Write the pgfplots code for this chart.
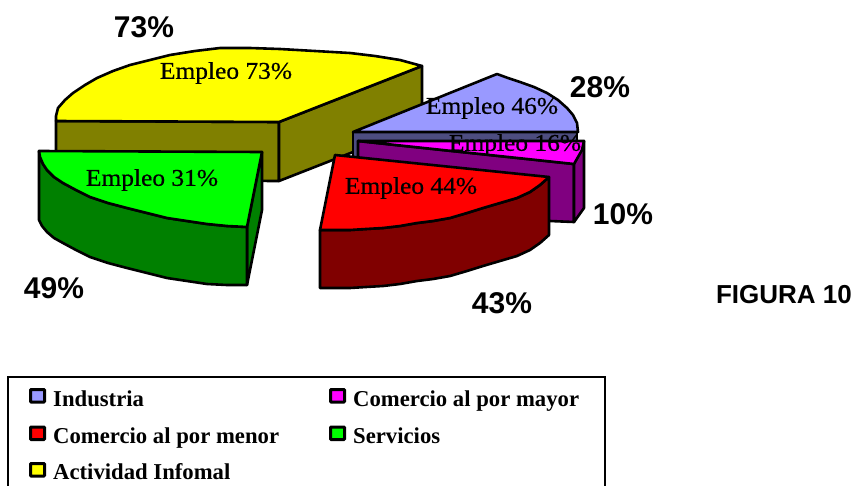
\documentclass[border=0pt]{standalone}
\usepackage{pgfplots}
\pgfplotsset{compat=1.18}
\usepackage{fontspec}
\setmainfont{Liberation Sans}
\newfontfamily\serif[FakeBold=0.5]{Liberation Serif}
\newfontfamily\serifb{Liberation Serif}
\definecolor{cblue}{HTML}{9999FF}
\definecolor{dblue}{HTML}{4D4D80}
\definecolor{cmag}{HTML}{FF00FF}
\definecolor{dmag}{HTML}{800080}
\definecolor{cred}{HTML}{FF0000}
\definecolor{dred}{HTML}{800000}
\definecolor{cgreen}{HTML}{00FF00}
\definecolor{dgreen}{HTML}{008000}
\definecolor{cyel}{HTML}{FFFF00}
\definecolor{dyel}{HTML}{808000}
\tikzset{
 pct/.style={font=\fontsize{30}{32}\selectfont\bfseries,text=black,inner sep=0pt},
 emp/.style={font=\fontsize{24}{26}\serif\selectfont,text=black,inner sep=0pt,xscale=1.06},
 leg/.style={font=\fontsize{22.7}{24}\serifb\bfseries\selectfont,text=black,inner sep=0pt,anchor=base west},
 wedge/.style={draw=black,line width=2.6pt,line join=round},
 swatch/.style={draw=black,line width=3pt,rounded corners=0.8pt}
}
\begin{document}
\begin{tikzpicture}
\useasboundingbox (0,0) rectangle (854pt,485pt);
\begin{axis}[at={(0,0)},anchor=south west,scale only axis,width=854pt,height=485pt,xmin=0,xmax=854,ymin=0,ymax=485,y dir=reverse,hide axis,clip=true]
% Actividad informal
\addplot[wedge,fill=dyel] coordinates {(56,121)(279,122)(279,181)(56,180)} -- cycle;
\addplot[wedge,fill=dyel] coordinates {(279,122)(422,66)(422,125)(279,181)} -- cycle;
\addplot[wedge,fill=cyel] coordinates {(279,122)(56,121)(56,116)(58,108)(65,100)(73,93)(85,85)(97,78)(113,71)(130,65)(150,60)(170,55)(195,51)(220,48)(250,48)(280,49)(315,51)(350,53)(375,56)(400,60)(422,66)} -- cycle;
% Industria
\addplot[wedge,fill=dblue] coordinates {(353,132)(577,132)(577,191)(353,191)} -- cycle;
\addplot[wedge,fill=cblue] coordinates {(353,132)(497,74)(508,78)(520,82)(534,87)(547,93)(558,100)(567,108)(573,115)(577,123)(578,132)} -- cycle;
% Comercio al por mayor
\addplot[wedge,fill=dmag] coordinates {(358,141)(574,164)(574,222)(550,221)(358,200)} -- cycle;
\addplot[wedge,fill=dmag] coordinates {(574,164)(584,141)(584,208)(574,222)} -- cycle;
\addplot[wedge,fill=cmag] coordinates {(358,141)(584,141)(582,150)(578,157)(574,164)} -- cycle;
% Servicios
\addplot[wedge,fill=dgreen] coordinates {(247,227)(262,152)(262,210)(247,285)} -- cycle;
\addplot[wedge,fill=dgreen] coordinates {(39,151)(40,157)(43,164)(47,170)(54,177)(63,183)(76,190)(90,197)(108,203)(127,208)(147,213)(167,218)(187,221)(207,224)(227,226)(247,227)(247,285)(227,285)(207,284)(187,281)(167,278)(147,273)(127,268)(108,263)(90,257)(76,250)(63,243)(54,238)(47,232)(42,226)(39,220)} -- cycle;
\addplot[wedge,fill=cgreen] coordinates {(39,151)(262,152)(247,227)(227,226)(207,224)(187,221)(167,218)(147,213)(127,208)(108,203)(90,197)(76,190)(63,183)(54,177)(47,170)(43,164)(40,157)} -- cycle;
% Comercio al por menor
\addplot[wedge,fill=dred] coordinates {(320,230)(350,230)(366,229)(383,228)(400,226)(417,223)(433,221)(450,218)(467,213)(483,208)(500,203)(517,198)(530,192)(540,185)(549,177)(549,235)(540,243)(530,250)(517,256)(500,261)(483,266)(467,271)(450,276)(433,279)(417,281)(400,284)(383,286)(366,287)(350,288)(320,288)} -- cycle;
\addplot[wedge,fill=cred] coordinates {(335,155)(549,177)(540,185)(530,192)(517,198)(500,203)(483,208)(467,213)(450,218)(433,221)(417,223)(400,226)(383,228)(366,229)(350,230)(320,230)} -- cycle;
% labels
\node[emp] at (axis cs:226,73) {Empleo 73\%};
\node[emp] at (axis cs:492,108) {Empleo 46\%};
\node[emp] at (axis cs:515,145) {Empleo 16\%};
\node[emp] at (axis cs:411,188) {Empleo 44\%};
\node[emp] at (axis cs:152,180) {Empleo 31\%};
\node[pct] at (axis cs:144,27) {73\%};
\node[pct] at (axis cs:600,87) {28\%};
\node[pct] at (axis cs:623,214) {10\%};
\node[pct] at (axis cs:502,303) {43\%};
\node[pct] at (axis cs:54,288) {49\%};
\node[pct,font=\fontsize{26}{28}\selectfont\bfseries] at (axis cs:784,295) {FIGURA 10};
% legend
\addplot[draw=black,line width=2.6pt] coordinates {(8,377)(605,377)(605,500)(8,500)} -- cycle;
\addplot[swatch,fill=cblue] coordinates {(30.5,389.5)(44.5,389.5)(44.5,402)(30.5,402)} -- cycle;
\addplot[swatch,fill=cmag] coordinates {(330.5,389.5)(344.5,389.5)(344.5,402)(330.5,402)} -- cycle;
\addplot[swatch,fill=cred] coordinates {(30.5,427)(44.5,427)(44.5,439.5)(30.5,439.5)} -- cycle;
\addplot[swatch,fill=cgreen] coordinates {(330.5,427)(344.5,427)(344.5,439.5)(330.5,439.5)} -- cycle;
\addplot[swatch,fill=cyel] coordinates {(30.5,463.5)(44.5,463.5)(44.5,476)(30.5,476)} -- cycle;
\node[leg] at (axis cs:53,406) {Industria};
\node[leg] at (axis cs:353,406) {Comercio al por mayor};
\node[leg] at (axis cs:53,443) {Comercio al por menor};
\node[leg] at (axis cs:353,443) {Servicios};
\node[leg] at (axis cs:53,479) {Actividad Infomal};
\end{axis}
\end{tikzpicture}
\end{document}
